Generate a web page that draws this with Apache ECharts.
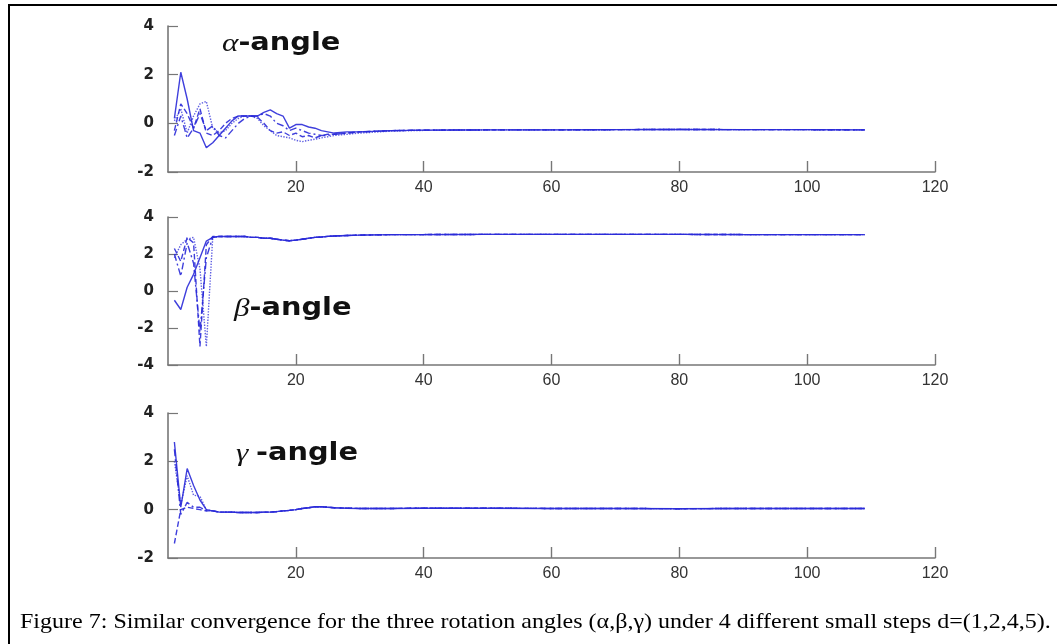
<!DOCTYPE html>
<html>
<head>
<meta charset="utf-8">
<script src="https://cdn.jsdelivr.net/npm/echarts@6/dist/echarts.min.js"></script>
<style>
  html, body {margin: 0; padding: 0; background: #fff;}
  #chart {width: 1057px; height: 644px;}
</style>
</head>
<body>
<div id="chart"></div>
<script>
// iteration steps shared by every curve
const steps = [1,2,3,4,5,6,7,8,9,10,11,12,13,14,15,16,17,18,19,20,21,22,23,24,25,26,28,30,35,40,50,60,70,80,90,100,109];

// alpha angle, d = 1, 2, 4, 5
const alphaD1 = [0.2,2.1,1.0,-0.3,-0.4,-1.0,-0.8,-0.5,-0.2,0.1,0.3,0.3,0.3,0.3,0.45,0.55,0.4,0.3,-0.2,-0.05,-0.05,-0.15,-0.2,-0.3,-0.35,-0.4,-0.35,-0.35,-0.3,-0.28,-0.27,-0.27,-0.26,-0.25,-0.26,-0.26,-0.27];
const alphaD2 = [-0.3,0.8,0.4,-0.2,0.6,-0.4,-0.5,-0.3,0.0,0.2,0.3,0.3,0.3,0.25,0.0,-0.3,-0.4,-0.35,-0.5,-0.4,-0.55,-0.5,-0.6,-0.5,-0.45,-0.45,-0.4,-0.35,-0.3,-0.28,-0.27,-0.27,-0.26,-0.25,-0.26,-0.26,-0.27];
const alphaD4 = [0.1,0.6,-0.4,0.3,0.8,0.9,-0.2,-0.4,-0.3,0.0,0.2,0.3,0.3,0.2,-0.1,-0.3,-0.5,-0.55,-0.6,-0.7,-0.75,-0.7,-0.65,-0.6,-0.55,-0.5,-0.45,-0.4,-0.32,-0.29,-0.27,-0.27,-0.26,-0.25,-0.26,-0.26,-0.27];
const alphaD5 = [-0.5,0.3,-0.6,-0.2,0.4,-0.3,-0.1,-0.5,-0.6,-0.3,0.0,0.2,0.3,0.3,0.4,0.3,0.0,-0.1,-0.3,-0.2,-0.3,-0.4,-0.45,-0.5,-0.5,-0.45,-0.4,-0.35,-0.3,-0.28,-0.27,-0.27,-0.26,-0.25,-0.26,-0.26,-0.27];

// beta angle
const betaD1 = [-0.5,-1.0,0.2,0.9,1.8,2.7,2.9,2.95,2.95,2.95,2.95,2.95,2.9,2.9,2.85,2.85,2.8,2.75,2.72,2.75,2.8,2.85,2.9,2.92,2.95,2.97,3.0,3.02,3.05,3.05,3.06,3.06,3.06,3.06,3.05,3.05,3.05];
const betaD2 = [2.3,1.6,2.9,2.6,-3.0,2.5,2.95,2.95,2.95,2.95,2.95,2.95,2.9,2.9,2.85,2.85,2.8,2.75,2.72,2.75,2.8,2.85,2.9,2.92,2.95,2.97,3.0,3.02,3.05,3.05,3.06,3.06,3.06,3.06,3.05,3.05,3.05];
const betaD4 = [1.8,2.5,2.8,2.9,1.2,-3.0,2.9,2.95,2.95,2.95,2.95,2.95,2.9,2.9,2.85,2.85,2.8,2.75,2.72,2.75,2.8,2.85,2.9,2.92,2.95,2.97,3.0,3.02,3.05,3.05,3.06,3.06,3.06,3.06,3.05,3.05,3.05];
const betaD5 = [2.0,0.8,2.6,1.5,-2.2,1.8,2.9,2.95,2.95,2.95,2.95,2.95,2.9,2.9,2.85,2.85,2.8,2.75,2.72,2.75,2.8,2.85,2.9,2.92,2.95,2.97,3.0,3.02,3.05,3.05,3.06,3.06,3.06,3.06,3.05,3.05,3.05];

// gamma angle
const gammaD1 = [2.8,0.1,1.7,1.0,0.4,0.0,-0.05,-0.1,-0.1,-0.1,-0.12,-0.12,-0.12,-0.12,-0.1,-0.1,-0.08,-0.05,-0.03,0.0,0.05,0.08,0.12,0.12,0.1,0.08,0.06,0.05,0.05,0.06,0.06,0.05,0.05,0.04,0.05,0.05,0.05];
const gammaD2 = [-1.4,0.0,0.1,0.05,0.0,-0.05,-0.05,-0.1,-0.1,-0.1,-0.12,-0.12,-0.12,-0.12,-0.1,-0.1,-0.08,-0.05,-0.03,0.0,0.05,0.08,0.12,0.12,0.1,0.08,0.06,0.05,0.05,0.06,0.06,0.05,0.05,0.04,0.05,0.05,0.05];
const gammaD4 = [2.0,0.2,1.4,0.6,0.55,0.0,-0.05,-0.1,-0.1,-0.1,-0.12,-0.12,-0.12,-0.12,-0.1,-0.1,-0.08,-0.05,-0.03,0.0,0.05,0.08,0.12,0.12,0.1,0.08,0.06,0.05,0.05,0.06,0.06,0.05,0.05,0.04,0.05,0.05,0.05];
const gammaD5 = [2.5,-0.2,0.3,0.1,0.1,-0.05,-0.05,-0.1,-0.1,-0.1,-0.12,-0.12,-0.12,-0.12,-0.1,-0.1,-0.08,-0.05,-0.03,0.0,0.05,0.08,0.12,0.12,0.1,0.08,0.06,0.05,0.05,0.06,0.06,0.05,0.05,0.04,0.05,0.05,0.05];

const panelNames = ['α', 'β', 'γ '];
const caption = 'Figure 7: Similar convergence for the three rotation angles (α,β,γ) under 4 different small steps d=(1,2,4,5).';

const lineTypes = ['solid', 'dashed', 'dotted', [7, 3, 2, 3]];
const blue = '#2a2ad8';
const axisGrey = '#777';

function pts(ys) {
    return steps.map((x, i) => [x, ys[i]]);
}

let panels = [
    [alphaD1, alphaD2, alphaD4, alphaD5],
    [betaD1, betaD2, betaD4, betaD5],
    [gammaD1, gammaD2, gammaD4, gammaD5]
];

let grids = [
    {left: 168, right: 122, top: 26, height: 146},
    {left: 168, right: 122, top: 217, height: 148},
    {left: 168, right: 122, top: 413, height: 145}
];
let yRanges = [[-2, 4], [-4, 4], [-2, 4]];
// where the panel labels sit
let labelPos = [[222, 31], [234, 296], [236, 441]];

let series = [];
panels.forEach((p, g) => {
    p.forEach((ys, k) => {
        series.push({
            type: 'line',
            xAxisIndex: g,
            yAxisIndex: g,
            showSymbol: false,
            symbol: 'none',
            data: pts(ys),
            lineStyle: {color: blue, width: 1.4, type: lineTypes[k], opacity: k === 2 ? 0.75 : 0.9},
            z: 4 - k
        })
    })
});

let option = {
    animation: false,
    backgroundColor: '#fff',
    grid: grids,
    xAxis: grids.map((d, i) => ({
        gridIndex: i,
        type: 'value',
        min: 0,
        max: 120,
        interval: 20,
        splitLine: {show: false},
        axisLine: {onZero: false, lineStyle: {color: axisGrey, width: 1.6}},
        axisTick: {inside: true, length: 11, lineStyle: {color: axisGrey, width: 1.4}},
        axisLabel: {
            showMinLabel: false,
            margin: 8,
            color: '#333',
            fontSize: 16,
            fontFamily: '"Liberation Sans", Arial, sans-serif'
        }
    })),
    yAxis: grids.map((d, i) => ({
        gridIndex: i,
        type: 'value',
        min: yRanges[i][0],
        max: yRanges[i][1],
        interval: 2,
        splitLine: {show: false},
        axisLine: {show: true, onZero: false, lineStyle: {color: axisGrey, width: 1.6}},
        axisTick: {show: true, inside: true, length: 10, lineStyle: {color: axisGrey, width: 1.2}},
        axisLabel: {
            margin: 14,
            color: '#222',
            fontSize: 15,
            fontWeight: 'bold',
            fontFamily: '"DejaVu Sans", sans-serif'
        }
    })),
    graphic: [
        {type: 'line', shape: {x1: 8, y1: 5, x2: 1057, y2: 5}, style: {stroke: '#000', lineWidth: 2}},
        {type: 'line', shape: {x1: 9, y1: 4, x2: 9, y2: 644}, style: {stroke: '#000', lineWidth: 2}},
        {
            type: 'text',
            x: 20,
            y: 612,
            scaleX: 1.144,
            style: {text: caption, font: '21px "Liberation Serif", serif', fill: '#000'}
        }
    ].concat(labelPos.map((pos, i) => ({
        type: 'text',
        x: pos[0],
        y: pos[1],
        scaleX: 1.2,
        style: {
            text: '{g|' + panelNames[i] + '}{t|-angle}',
            rich: {
                g: {fontFamily: '"Liberation Serif", serif', fontStyle: 'italic', fontSize: 26, fill: '#111'},
                t: {fontFamily: '"DejaVu Sans", sans-serif', fontWeight: 'bold', fontSize: 24, fill: '#111'}
            }
        }
    }))),
    series: series
};

echarts.init(document.getElementById('chart')).setOption(option);
</script>
</body>
</html>
